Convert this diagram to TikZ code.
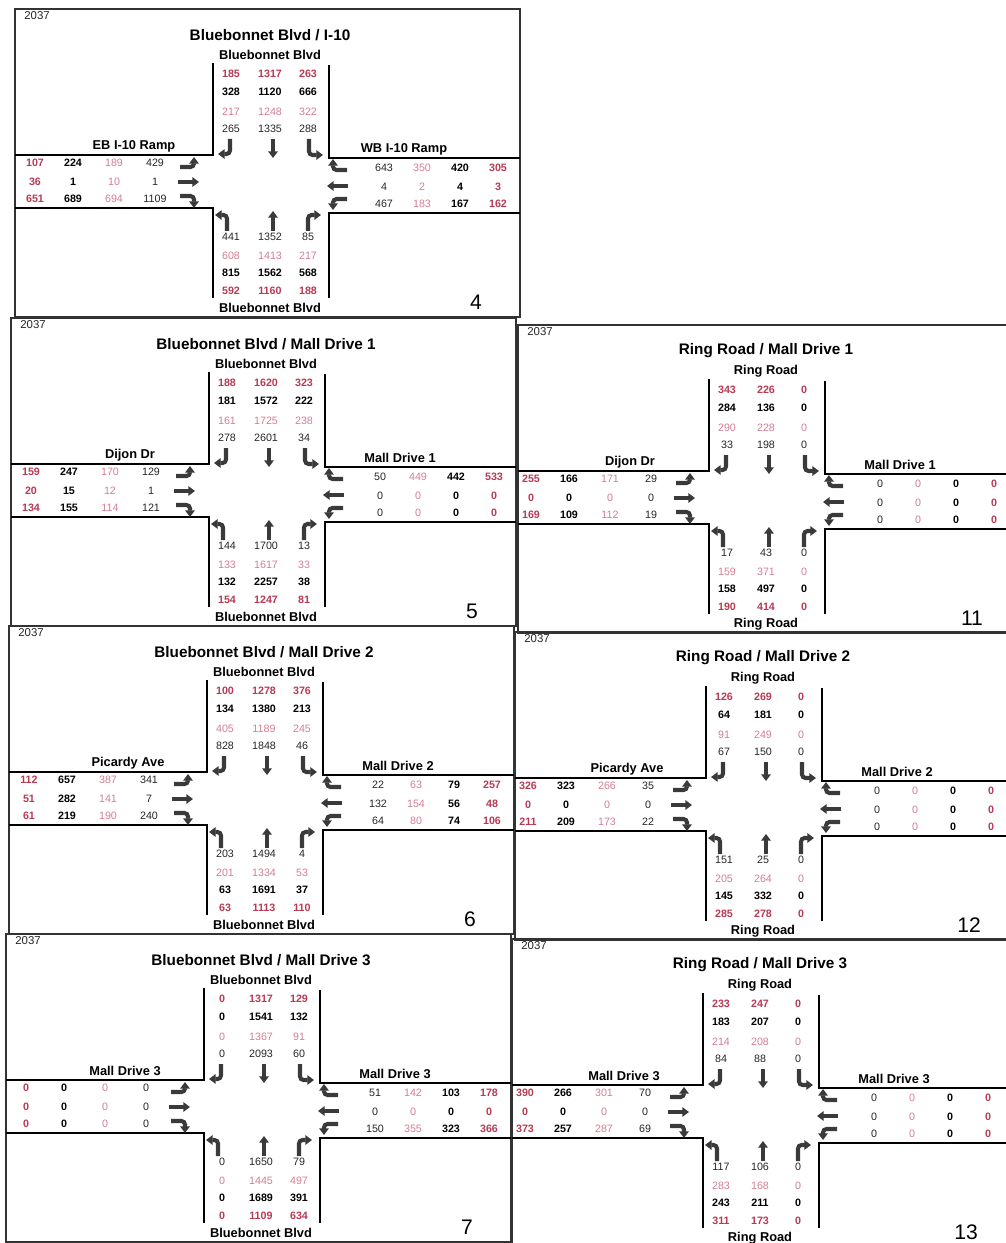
\documentclass[tikz,border=0pt]{standalone}
\usepackage{fontspec}
\setmainfont{Liberation Sans}
\usetikzlibrary{arrows.meta}
\definecolor{volred}{RGB}{184, 58, 84}
\definecolor{volpink}{RGB}{212, 126, 146}
\definecolor{lanegray}{RGB}{58, 58, 58}

\tikzset{
  street/.style={line width=0.75pt},
  panelframe/.style={line width=0.6pt, black!80},
  lanearrow/.style={lanegray, line width=2.3pt, rounded corners=2pt,
    -{Triangle[width=5.4pt, length=3.8pt]}},
  redbold/.style={inner sep=0pt, text=volred, font=\fontsize{6.1}{7}\selectfont\bfseries},
  blackbold/.style={inner sep=0pt, text=black, font=\fontsize{6.1}{7}\selectfont\bfseries},
  pinkthin/.style={inner sep=0pt, text=volpink, font=\fontsize{6.1}{7}\selectfont},
  blackthin/.style={inner sep=0pt, text=black!85, font=\fontsize{6.1}{7}\selectfont},
  titlelabel/.style={inner sep=0pt, font=\fontsize{8.7}{10}\selectfont\bfseries},
  streetlabel/.style={inner sep=0pt, font=\fontsize{7.3}{9}\selectfont\bfseries},
  yearlabel/.style={inner sep=0pt, anchor=west, text=black!85, font=\fontsize{6.5}{8}\selectfont},
  panelnum/.style={inner sep=0pt, font=\fontsize{12}{14}\selectfont}
}

% title, main street, west street, east street, number, left edge, right edge
\newcommand{\panelbase}[7]{%
  \draw[panelframe] (#6,9) rectangle (#7,317);
  \node[yearlabel] (\pnl-year) at (#6+9,16) {2037};
  \node[titlelabel] (\pnl-title) at (270,35) {#1};
  \node[streetlabel] (\pnl-top) at (270,55) {#2};
  \node[streetlabel] (\pnl-bottom) at (270,308) {#2};
  \node[streetlabel] (\pnl-west) at (134,146) {#3};
  \node[streetlabel] (\pnl-east) at (404,149) {#4};
  \node[panelnum] (\pnl-num) at (476,302) {#5};
  \draw[street] (213,63) -- (213,155) -- (#6,155);
  \draw[street] (329,65) -- (329,158) -- (#7,158);
  \draw[street] (#6,208) -- (213,208) -- (213,298);
  \draw[street] (#7,213) -- (329,213) -- (329,298);
  % lane arrows
  \draw[lanearrow] (230,139) |- (218,154);
  \draw[lanearrow] (273,139) -- (273,158);
  \draw[lanearrow] (309,139) |- (323,155);
  \draw[lanearrow] (180,167) -| (194,157);
  \draw[lanearrow] (178,182) -- (199,182);
  \draw[lanearrow] (180,196) -| (194,208);
  \draw[lanearrow] (347,170) -| (333,159);
  \draw[lanearrow] (348,186) -- (327,186);
  \draw[lanearrow] (347,199) -| (333,210);
  \draw[lanearrow] (227,231) |- (215,215);
  \draw[lanearrow] (273,231) -- (273,211);
  \draw[lanearrow] (308,231) |- (321,215);
}

% style, y, three volumes
\newcommand{\nsrow}[5]{%
  \node[#1] (\pnl-#2a) at (231,#2) {#3};
  \node[#1] (\pnl-#2b) at (270,#2) {#4};
  \node[#1] (\pnl-#2c) at (308,#2) {#5};}

\newcommand{\westrow}[5]{%
  \node[redbold] (\pnl-w#1a) at (35,#1) {#2};
  \node[blackbold] (\pnl-w#1b) at (73,#1) {#3};
  \node[pinkthin] (\pnl-w#1c) at (114,#1) {#4};
  \node[blackthin] (\pnl-w#1d) at (155,#1) {#5};}

\newcommand{\eastrow}[5]{%
  \node[blackthin] (\pnl-e#1a) at (384,#1) {#2};
  \node[pinkthin] (\pnl-e#1b) at (422,#1) {#3};
  \node[blackbold] (\pnl-e#1c) at (460,#1) {#4};
  \node[redbold] (\pnl-e#1d) at (498,#1) {#5};}

\begin{document}
\begin{tikzpicture}[x=0.02cm, y=-0.02cm]

  \useasboundingbox (0,0) rectangle (1005,1243);

  % Bluebonnet Blvd / I-10
  \begin{scope}
    \def\pnl{p4}
    \panelbase{Bluebonnet Blvd / I-10}{Bluebonnet Blvd}{EB I-10 Ramp}{WB I-10 Ramp}{4}{15}{520}
    \nsrow{redbold}{74}{185}{1317}{263}
    \nsrow{blackbold}{92}{328}{1120}{666}
    \nsrow{pinkthin}{112}{217}{1248}{322}
    \nsrow{blackthin}{129}{265}{1335}{288}
    \westrow{163}{107}{224}{189}{429}
    \westrow{182}{36}{1}{10}{1}
    \westrow{199}{651}{689}{694}{1109}
    \eastrow{168}{643}{350}{420}{305}
    \eastrow{187}{4}{2}{4}{3}
    \eastrow{204}{467}{183}{167}{162}
    \nsrow{blackthin}{237}{441}{1352}{85}
    \nsrow{pinkthin}{256}{608}{1413}{217}
    \nsrow{blackbold}{273}{815}{1562}{568}
    \nsrow{redbold}{291}{592}{1160}{188}
  \end{scope}

  % Bluebonnet Blvd / Mall Drive 1
  \begin{scope}[shift={(-4,309)}]
    \def\pnl{p5}
    \panelbase{Bluebonnet Blvd / Mall Drive 1}{Bluebonnet Blvd}{Dijon Dr}{Mall Drive 1}{5}{15}{520}
    \nsrow{redbold}{74}{188}{1620}{323}
    \nsrow{blackbold}{92}{181}{1572}{222}
    \nsrow{pinkthin}{112}{161}{1725}{238}
    \nsrow{blackthin}{129}{278}{2601}{34}
    \westrow{163}{159}{247}{170}{129}
    \westrow{182}{20}{15}{12}{1}
    \westrow{199}{134}{155}{114}{121}
    \eastrow{168}{50}{449}{442}{533}
    \eastrow{187}{0}{0}{0}{0}
    \eastrow{204}{0}{0}{0}{0}
    \nsrow{blackthin}{237}{144}{1700}{13}
    \nsrow{pinkthin}{256}{133}{1617}{33}
    \nsrow{blackbold}{273}{132}{2257}{38}
    \nsrow{redbold}{291}{154}{1247}{81}
  \end{scope}

  % Ring Road / Mall Drive 1
  \begin{scope}[shift={(496,316)}]
    \def\pnl{p11}
    \panelbase{Ring Road / Mall Drive 1}{Ring Road}{Dijon Dr}{Mall Drive 1}{11}{22}{530}
    \nsrow{redbold}{74}{343}{226}{0}
    \nsrow{blackbold}{92}{284}{136}{0}
    \nsrow{pinkthin}{112}{290}{228}{0}
    \nsrow{blackthin}{129}{33}{198}{0}
    \westrow{163}{255}{166}{171}{29}
    \westrow{182}{0}{0}{0}{0}
    \westrow{199}{169}{109}{112}{19}
    \eastrow{168}{0}{0}{0}{0}
    \eastrow{187}{0}{0}{0}{0}
    \eastrow{204}{0}{0}{0}{0}
    \nsrow{blackthin}{237}{17}{43}{0}
    \nsrow{pinkthin}{256}{159}{371}{0}
    \nsrow{blackbold}{273}{158}{497}{0}
    \nsrow{redbold}{291}{190}{414}{0}
  \end{scope}

  % Bluebonnet Blvd / Mall Drive 2
  \begin{scope}[shift={(-6,617)}]
    \def\pnl{p6}
    \panelbase{Bluebonnet Blvd / Mall Drive 2}{Bluebonnet Blvd}{Picardy Ave}{Mall Drive 2}{6}{15}{520}
    \nsrow{redbold}{74}{100}{1278}{376}
    \nsrow{blackbold}{92}{134}{1380}{213}
    \nsrow{pinkthin}{112}{405}{1189}{245}
    \nsrow{blackthin}{129}{828}{1848}{46}
    \westrow{163}{112}{657}{387}{341}
    \westrow{182}{51}{282}{141}{7}
    \westrow{199}{61}{219}{190}{240}
    \eastrow{168}{22}{63}{79}{257}
    \eastrow{187}{132}{154}{56}{48}
    \eastrow{204}{64}{80}{74}{106}
    \nsrow{blackthin}{237}{203}{1494}{4}
    \nsrow{pinkthin}{256}{201}{1334}{53}
    \nsrow{blackbold}{273}{63}{1691}{37}
    \nsrow{redbold}{291}{63}{1113}{110}
  \end{scope}

  % Ring Road / Mall Drive 2
  \begin{scope}[shift={(493,623)}]
    \def\pnl{p12}
    \panelbase{Ring Road / Mall Drive 2}{Ring Road}{Picardy Ave}{Mall Drive 2}{12}{22}{530}
    \nsrow{redbold}{74}{126}{269}{0}
    \nsrow{blackbold}{92}{64}{181}{0}
    \nsrow{pinkthin}{112}{91}{249}{0}
    \nsrow{blackthin}{129}{67}{150}{0}
    \westrow{163}{326}{323}{266}{35}
    \westrow{182}{0}{0}{0}{0}
    \westrow{199}{211}{209}{173}{22}
    \eastrow{168}{0}{0}{0}{0}
    \eastrow{187}{0}{0}{0}{0}
    \eastrow{204}{0}{0}{0}{0}
    \nsrow{blackthin}{237}{151}{25}{0}
    \nsrow{pinkthin}{256}{205}{264}{0}
    \nsrow{blackbold}{273}{145}{332}{0}
    \nsrow{redbold}{291}{285}{278}{0}
  \end{scope}

  % Bluebonnet Blvd / Mall Drive 3
  \begin{scope}[shift={(-9,925)}]
    \def\pnl{p7}
    \panelbase{Bluebonnet Blvd / Mall Drive 3}{Bluebonnet Blvd}{Mall Drive 3}{Mall Drive 3}{7}{15}{520}
    \nsrow{redbold}{74}{0}{1317}{129}
    \nsrow{blackbold}{92}{0}{1541}{132}
    \nsrow{pinkthin}{112}{0}{1367}{91}
    \nsrow{blackthin}{129}{0}{2093}{60}
    \westrow{163}{0}{0}{0}{0}
    \westrow{182}{0}{0}{0}{0}
    \westrow{199}{0}{0}{0}{0}
    \eastrow{168}{51}{142}{103}{178}
    \eastrow{187}{0}{0}{0}{0}
    \eastrow{204}{150}{355}{323}{366}
    \nsrow{blackthin}{237}{0}{1650}{79}
    \nsrow{pinkthin}{256}{0}{1445}{497}
    \nsrow{blackbold}{273}{0}{1689}{391}
    \nsrow{redbold}{291}{0}{1109}{634}
  \end{scope}

  % Ring Road / Mall Drive 3
  \begin{scope}[shift={(490,930)}]
    \def\pnl{p13}
    \panelbase{Ring Road / Mall Drive 3}{Ring Road}{Mall Drive 3}{Mall Drive 3}{13}{22}{530}
    \nsrow{redbold}{74}{233}{247}{0}
    \nsrow{blackbold}{92}{183}{207}{0}
    \nsrow{pinkthin}{112}{214}{208}{0}
    \nsrow{blackthin}{129}{84}{88}{0}
    \westrow{163}{390}{266}{301}{70}
    \westrow{182}{0}{0}{0}{0}
    \westrow{199}{373}{257}{287}{69}
    \eastrow{168}{0}{0}{0}{0}
    \eastrow{187}{0}{0}{0}{0}
    \eastrow{204}{0}{0}{0}{0}
    \nsrow{blackthin}{237}{117}{106}{0}
    \nsrow{pinkthin}{256}{283}{168}{0}
    \nsrow{blackbold}{273}{243}{211}{0}
    \nsrow{redbold}{291}{311}{173}{0}
  \end{scope}

\end{tikzpicture}
\end{document}
